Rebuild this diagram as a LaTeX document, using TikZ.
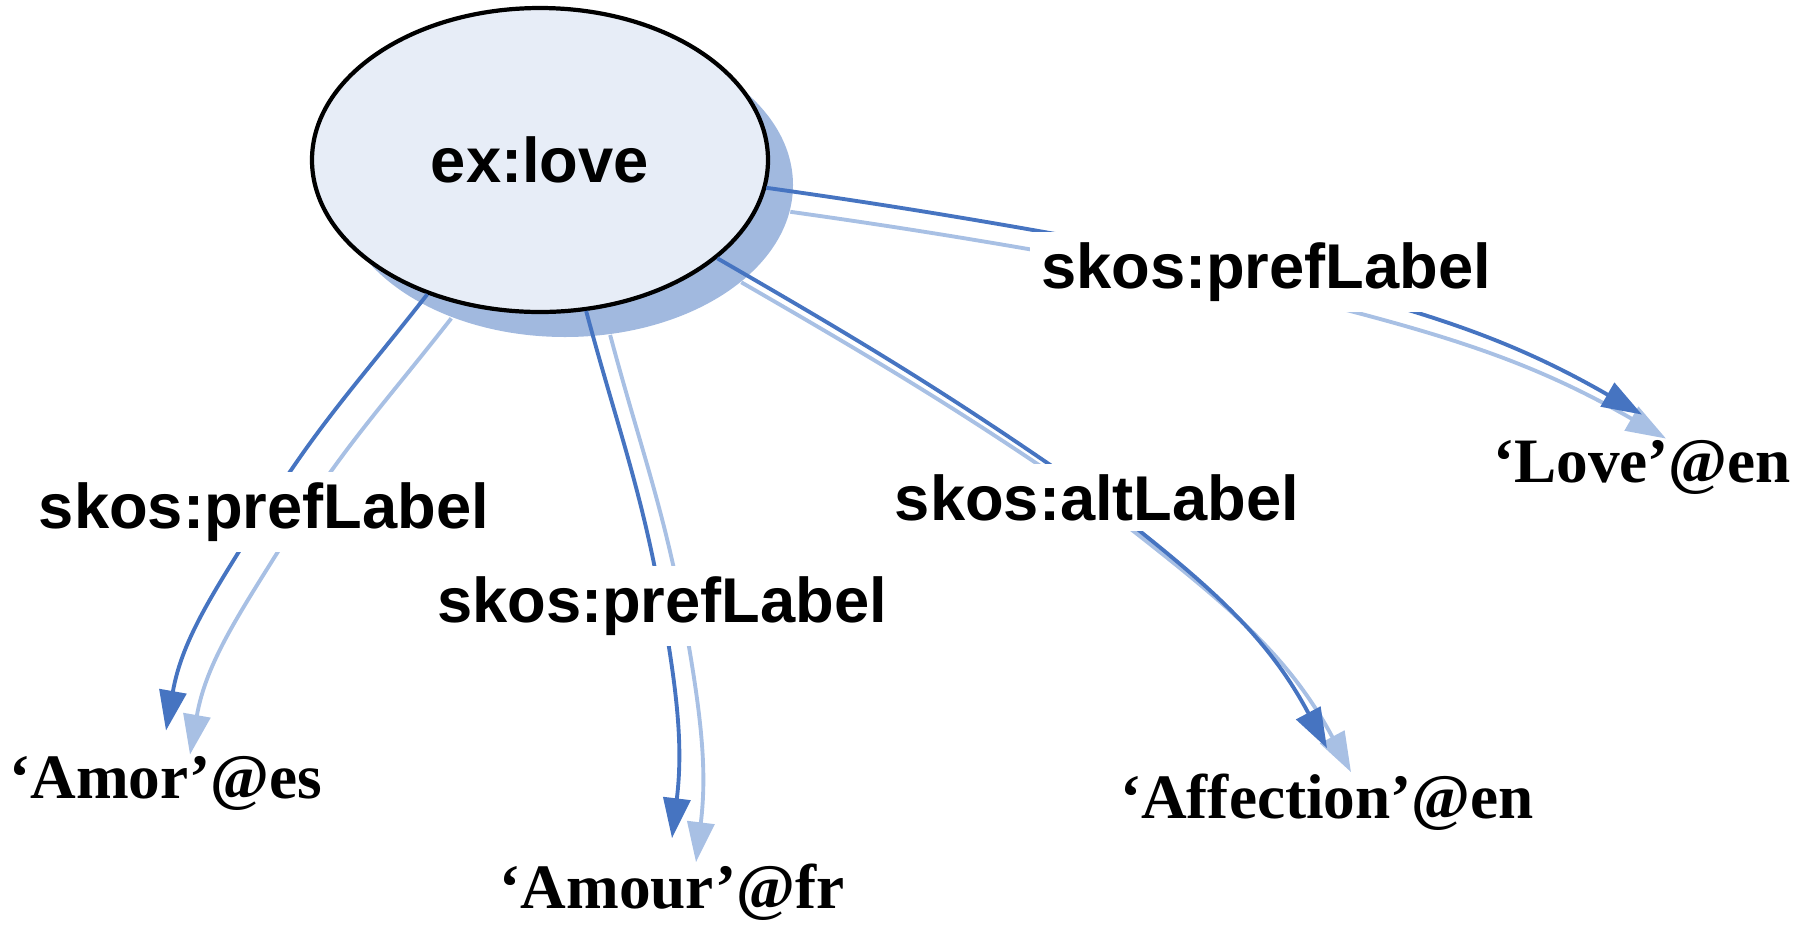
\documentclass[tikz,border=0pt]{standalone}
\usepackage{fontspec}
\setmainfont{Liberation Serif}
\setsansfont{Liberation Sans}
\usetikzlibrary{arrows.meta, shapes.geometric, shadows}

\definecolor{edgeBlue}{RGB}{70,116,193}
\definecolor{edgeShade}{RGB}{168,192,228}
\definecolor{conceptShade}{RGB}{161,185,223}
\definecolor{conceptFill}{RGB}{231,237,247}

\pgfdeclarelayer{front}
\pgfsetlayers{main,front}

\tikzset{
  conceptNode/.style = {ellipse, draw=black, line width=1.2pt, fill=conceptFill,
    minimum width=4.56cm, minimum height=3.04cm, inner sep=0pt,
    font=\sffamily\bfseries\fontsize{18}{20}\selectfont,
    drop shadow={shadow xshift=0.25cm, shadow yshift=-0.25cm, fill=conceptShade, opacity=1}},
  propNode/.style = {fill=white, inner sep=3pt, anchor=base,
    font=\sffamily\bfseries\fontsize{18}{20}\selectfont},
  literalNode/.style = {inner sep=7pt, anchor=base,
    font=\bfseries\fontsize{18}{20}\selectfont},
  edgeMain/.style = {draw=edgeBlue, line width=1.1pt,
    -{Triangle[length=4mm, width=2.7mm]}},
  edgeShadow/.style = {edgeMain, draw=edgeShade,
    transform canvas={shift={(0.24,-0.24)}}}
}

\begin{document}
\begin{tikzpicture}
  \useasboundingbox (0,0) rectangle (18.07,-9.26);

  \node[conceptNode] (love) at (5.40,-1.60) {ex:love};

  \node[literalNode] (amorEs) at (1.66,-7.98) {‘Amor’@es};
  \node[literalNode] (amourFr) at (6.72,-9.08) {‘Amour’@fr};
  \node[literalNode] (affectionEn) at (13.27,-8.18) {‘Affection’@en};
  \node[literalNode] (loveEn) at (16.42,-4.82) {‘Love’@en};

  % property labels sit on top of the connectors
  \begin{pgfonlayer}{front}
    \node[propNode] (prefEs) at (2.64,-5.28) {skos:prefLabel};
    \node[propNode] (prefFr) at (6.62,-6.22) {skos:prefLabel};
    \node[propNode] (altEn) at (10.97,-5.20) {skos:altLabel};
    \node[propNode] (prefEn) at (12.66,-2.88) {skos:prefLabel};
  \end{pgfonlayer}

  \draw[edgeShadow] (love.230) to[out=232, in=58] (prefEs.center) to[out=238, in=80] (amorEs.north);
  \draw[edgeMain] (love.230) to[out=232, in=58] (prefEs.center) to[out=238, in=80] (amorEs.north);

  \draw[edgeShadow] (love.287) to[out=285, in=100] (prefFr.center) to[out=280, in=83] (amourFr.north);
  \draw[edgeMain] (love.287) to[out=285, in=100] (prefFr.center) to[out=280, in=83] (amourFr.north);

  \draw[edgeShadow] (love.331) to[out=330, in=145] (altEn.center) to[out=322, in=118] (affectionEn.north);
  \draw[edgeMain] (love.331) to[out=330, in=145] (altEn.center) to[out=322, in=118] (affectionEn.north);

  \draw[edgeShadow] (love.353) to[out=352, in=170] (prefEn.center) to[out=346, in=150] (loveEn.north);
  \draw[edgeMain] (love.353) to[out=352, in=170] (prefEn.center) to[out=346, in=150] (loveEn.north);
\end{tikzpicture}
\end{document}
